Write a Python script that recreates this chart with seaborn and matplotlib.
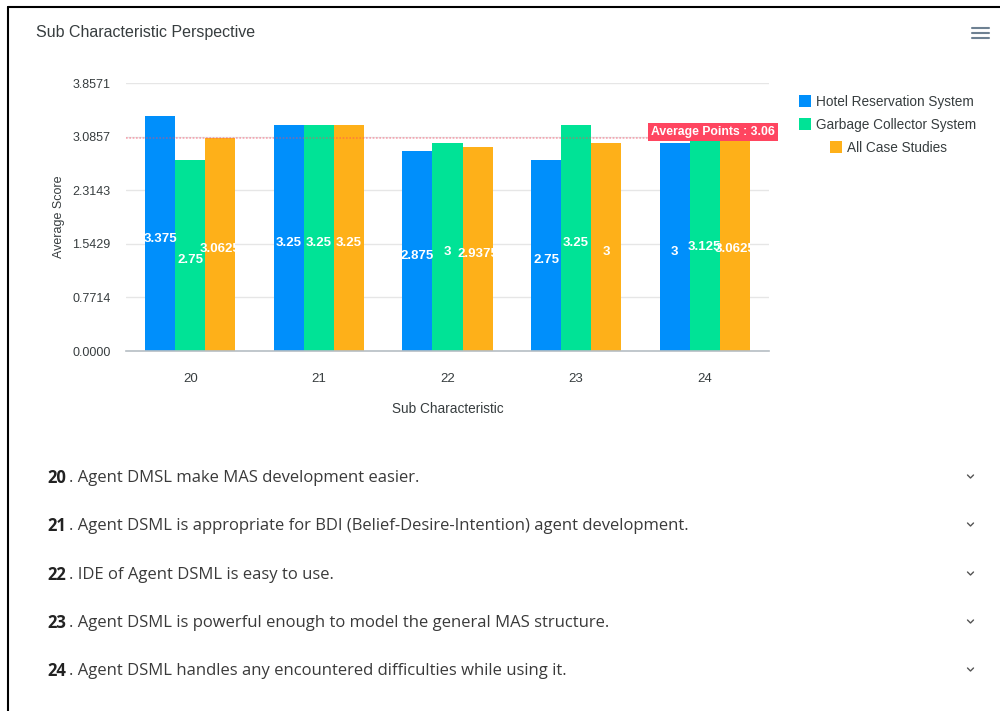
import matplotlib
matplotlib.use("Agg")
import matplotlib.pyplot as plt
from matplotlib.lines import Line2D
from matplotlib.transforms import TransformedBbox, Bbox
import seaborn as sns
import pandas as pd
import numpy as np

categories = ["20", "21", "22", "23", "24"]
series_names = ["Hotel Reservation System", "Garbage Collector System", "All Case Studies"]
hotel = [3.375, 3.25, 2.875, 2.75, 3.0]
garbage = [2.75, 3.25, 3.0, 3.25, 3.125]
all_cases = [3.0625, 3.25, 2.9375, 3.0, 3.0625]
value_labels = [
    ["3.375", "3.25", "2.875", "2.75", "3"],
    ["2.75", "3.25", "3", "3.25", "3.125"],
    ["3.0625", "3.25", "2.9375", "3", "3.0625"],
]
y_ticks = [0.0, 0.7714, 1.5429, 2.3143, 3.0857, 3.8571]
y_tick_labels = ["0.0000", "0.7714", "1.5429", "2.3143", "3.0857", "3.8571"]
average_points = 3.06
questions = [
    ("20", "Agent DMSL make MAS development easier."),
    ("21", "Agent DSML is appropriate for BDI (Belief-Desire-Intention) agent development."),
    ("22", "IDE of Agent DSML is easy to use."),
    ("23", "Agent DSML is powerful enough to model the general MAS structure."),
    ("24", "Agent DSML handles any encountered difficulties while using it."),
]
colors = ["#008FFB", "#00E396", "#FEB019"]

rows = []
for name, vals in zip(series_names, [hotel, garbage, all_cases]):
    for c, v in zip(categories, vals):
        rows.append({"Sub Characteristic": c, "Average Score": v, "series": name})
df = pd.DataFrame(rows)

sns.set_theme(style="white")
plt.rcParams["font.family"] = ["Liberation Sans", "DejaVu Sans"]

W, H = 1000, 711
fig = plt.figure(figsize=(10, 7.11), dpi=100)

def fx(px):
    return px / W

def fy(py):
    return 1 - py / H

ax = fig.add_axes([fx(126), fy(351), fx(769) - fx(126), fy(83) - fy(351)])
sns.barplot(data=df, x="Sub Characteristic", y="Average Score", hue="series",
            palette=colors, width=0.7, gap=0, ax=ax, legend=False,
            edgecolor="none", linewidth=0, saturation=1)

ax.set_xlim(-0.5, 4.5)
ax.set_ylim(0, 3.8571)
ax.set_yticks(y_ticks)
ax.set_yticklabels(y_tick_labels, fontsize=9, color="#373d3f")
ax.grid(axis="y", color="#e6e6e6", linewidth=1)
ax.set_axisbelow(True)
for s in ["top", "right", "left"]:
    ax.spines[s].set_visible(False)
ax.spines["bottom"].set_color("#b6bec4")
ax.spines["bottom"].set_linewidth(1.2)
ax.tick_params(axis="y", length=0, pad=11)
ax.set_xticks(range(len(categories)))
ax.set_xticklabels(categories, fontsize=9.5, color="#373d3f")
ax.tick_params(axis="x", length=0, pad=16)
ax.set_xticks([0.5, 1.5, 2.5, 3.5], minor=True)
ax.tick_params(axis="x", which="minor", length=6, color="#b6bec4", width=1.2, direction="out")
ax.set_xlabel("Sub Characteristic", fontsize=9.8, color="#373d3f", labelpad=12)
ax.set_ylabel("Average Score", fontsize=9, color="#373d3f", labelpad=5)

fig.canvas.draw()
# value labels inside bars, clipped to each category group
n_cat = len(categories)
for container, labels in zip(ax.containers, value_labels):
    for i, (bar, lab) in enumerate(zip(container, labels)):
        first = ax.containers[0][i]
        last = ax.containers[-1][i]
        gb = Bbox.from_extents(first.get_x(), 0, last.get_x() + last.get_width(), 3.8571)
        cx = bar.get_x() + bar.get_width() / 2
        t = ax.annotate(lab, xy=(cx, bar.get_height() / 2), xytext=(0, -3.5),
                        textcoords="offset points", ha="center", va="center",
                        color="white", fontsize=9.5, fontweight="bold")
        t.set_clip_on(True)
        t.set_clip_box(TransformedBbox(gb, ax.transData))

# average line
ax.axhline(average_points, color="#FF4560", linewidth=1.2, linestyle=(0, (1, 1)), alpha=0.45, zorder=1)
ax.annotate("Average Points : 3.06", xy=(1.0, average_points), xycoords=("axes fraction", "data"),
            xytext=(4.5, 0.5), textcoords="offset points", ha="right", va="bottom",
            fontsize=8.8, fontweight="bold", color="white", annotation_clip=False,
            bbox=dict(boxstyle="square,pad=0.25", facecolor="#FF4560", edgecolor="none"))

# legend (manual markers + text in figure coordinates)
leg_items = [(799, 101), (799, 124), (830, 147)]
for (lx, ly), name, col in zip(leg_items, series_names, colors):
    fig.patches.append(plt.Rectangle((fx(lx), fy(ly + 6)), fx(12), 12 / H, transform=fig.transFigure,
                                     facecolor=col, edgecolor="none"))
    fig.text(fx(lx + 17), fy(ly + 1), name, fontsize=9.8, color="#373d3f", va="center", ha="left")

# title
fig.text(fx(36), fy(33), "Sub Characteristic Perspective", fontsize=11.5, color="#373d3f", va="center", ha="left")

# hamburger icon
for yy in [28, 33, 38]:
    fig.add_artist(Line2D([fx(972), fx(989)], [fy(yy), fy(yy)], color="#6e8192", linewidth=1.5))

# border
fig.add_artist(Line2D([fx(8), fx(8)], [fy(7), 0], color="black", linewidth=1.5))
fig.add_artist(Line2D([fx(8), 1], [fy(7), fy(7)], color="black", linewidth=1.5))

# question list
renderer = fig.canvas.get_renderer()
row_y = [478, 526, 575, 623, 671]
for (num, txt), yy in zip(questions, row_y):
    tn = fig.text(fx(47), fy(yy), num, fontsize=12, fontweight="bold", color="#222222",
                  va="center", ha="left", family=["Open Sans", "DejaVu Sans"])
    bb = tn.get_window_extent(renderer=renderer)
    fig.text(bb.x1 / W + fx(3), fy(yy), ". " + txt, fontsize=12, color="#3a3a3a",
             va="center", ha="left", family=["Open Sans", "DejaVu Sans"])
    fig.add_artist(Line2D([fx(967.5), fx(970.5), fx(973.5)], [fy(yy - 3), fy(yy), fy(yy - 3)],
                          color="#555555", linewidth=1.0))

fig.savefig("out.png", dpi=100, facecolor="white")
